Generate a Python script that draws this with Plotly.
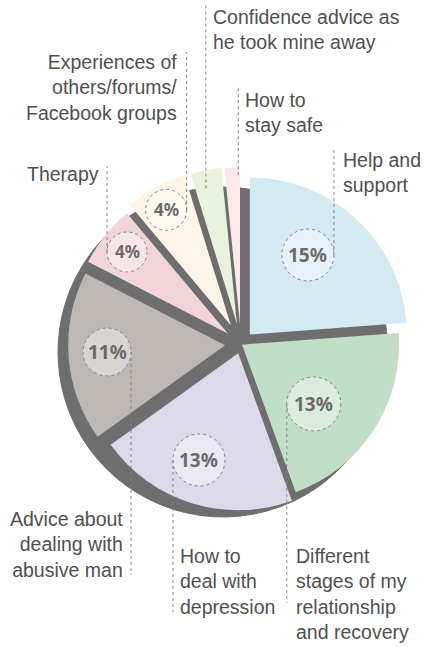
import math
import plotly.graph_objects as go

# ---------------- data ----------------
CATEGORIES = [
    "Help and support",
    "Different stages of my relationship and recovery",
    "How to deal with depression",
    "Advice about dealing with abusive man",
    "Therapy",
    "Experiences of others/forums/Facebook groups",
    "Confidence advice as he took mine away",
    "How to stay safe",
]
LABEL_TEXT = [
    "Help and<br>support",
    "Different<br>stages of my<br>relationship<br>and recovery",
    "How to<br>deal with<br>depression",
    "Advice about<br>dealing with<br>abusive man",
    "Therapy",
    "Experiences of<br>others/forums/<br>Facebook groups",
    "Confidence advice as<br>he took mine away",
    "How to<br>stay safe",
]
VALUES = [15, 13, 13, 11, 4, 4, 2, 1]

# ---------------- styles / layout ----------------
SLICE_COLORS = ["#d4eaf2", "#c1dfc6", "#dcd9e8", "#bdb8b4",
                "#f1d5d9", "#fef4e7", "#e9f2dc", "#fde8ea"]
SHADOW_COLOR = "#6e6e6e"
TEXT_COLOR = "#505050"
DOT_COLOR = "#858585"

W, H = 425, 647
PIE_CX, PIE_CY, PIE_R = 241, 344, 157          # coloured pie (px)
SHADOW_CX, SHADOW_CY, SHADOW_R = 223, 352, 165  # grey shadow pie (px)
PULL_PX = [13, 1.2, 9.6, 15.9, 16.9, 21.3, 20.5, 19.8]

LABEL_DIST = [98.4, 93.1, 113.8, 118.3, 129.6, 132.3, 139, 149]
LABEL_DANG = [-6.7, 6.7, 3.0, 1.0, 0.4, -0.7, -1.5, 2.2]
CIRCLE_R = [26, 27, 26, 24, 20, 20.5, 0, 0]
LEADER_SIDE = [1, -1, -1, 1, -1, 1, 0, 0]
LEADER_END_Y = [148, 603, 612, 575, 166, 52, 5, 85]
TEXT_TOP_Y = [147, 543, 543, 506, 161, 49, 4, 87]
TEXT_ANCHOR = ["left", "left", "left", "right", "right", "right", "left", "left"]
TEXT_GAP = [7, 7, 5, 6, 6, 8, 5, 5]
MIN_PCT_SHOWN = 4


def fx(x):
    return x / W


def fy(y):
    return 1 - y / H


def unit(deg):
    r = math.radians(deg)
    return math.sin(r), -math.cos(r)


total = sum(VALUES)
mids = []
acc = 0
for v in VALUES:
    mids.append((acc + v / 2) / total * 360)
    acc += v

fig = go.Figure()

# grey shadow pie
fig.add_trace(go.Pie(
    values=VALUES, labels=CATEGORIES, sort=False, direction="clockwise", rotation=0,
    marker=dict(colors=[SHADOW_COLOR] * len(VALUES), line=dict(color=SHADOW_COLOR, width=1)),
    textinfo="none", hoverinfo="skip", showlegend=False,
    domain=dict(x=[fx(SHADOW_CX - SHADOW_R), fx(SHADOW_CX + SHADOW_R)],
                y=[fy(SHADOW_CY + SHADOW_R), fy(SHADOW_CY - SHADOW_R)]),
))

# coloured exploded pie
max_pull = max(PULL_PX) / PIE_R
half = PIE_R * (1 + max_pull)
fig.add_trace(go.Pie(
    values=VALUES, labels=CATEGORIES, sort=False, direction="clockwise", rotation=0,
    pull=[p / PIE_R for p in PULL_PX],
    marker=dict(colors=SLICE_COLORS, line=dict(width=0)),
    textinfo="none", hoverinfo="skip", showlegend=False,
    domain=dict(x=[fx(PIE_CX - half), fx(PIE_CX + half)],
                y=[fy(PIE_CY + half), fy(PIE_CY - half)]),
))

shapes = []
annotations = []
for i, v in enumerate(VALUES):
    ux, uy = unit(mids[i])
    tx = PIE_CX + PULL_PX[i] * ux
    ty = PIE_CY + PULL_PX[i] * uy
    a = mids[i] + LABEL_DANG[i]
    lx, ly = unit(a)
    cx = tx + LABEL_DIST[i] * lx
    cy = ty + LABEL_DIST[i] * ly

    if v >= MIN_PCT_SHOWN:
        r = CIRCLE_R[i]
        shapes.append(dict(type="circle", xref="paper", yref="paper",
                           x0=fx(cx - r), x1=fx(cx + r), y0=fy(cy + r), y1=fy(cy - r),
                           line=dict(color=DOT_COLOR, width=1, dash="dot"),
                           fillcolor="rgba(255,255,255,0.4)", layer="above"))
        annotations.append(dict(x=fx(cx), y=fy(cy), xref="paper", yref="paper",
                                xanchor="center", yanchor="middle",
                                text=f"{v}%", showarrow=False,
                                font=dict(family="Noto Sans, sans-serif",
                                          size=19 if v >= 10 else 17,
                                          color="#6b6b6b", weight="bold")))
        lead_x = cx + LEADER_SIDE[i] * r
    else:
        lead_x = cx
    shapes.append(dict(type="line", xref="paper", yref="paper",
                       x0=fx(lead_x), x1=fx(lead_x), y0=fy(cy), y1=fy(LEADER_END_Y[i]),
                       line=dict(color=DOT_COLOR, width=1, dash="dot"), layer="above"))
    if TEXT_ANCHOR[i] == "left":
        tx_text = lead_x + TEXT_GAP[i]
    else:
        tx_text = lead_x - TEXT_GAP[i]
    annotations.append(dict(x=fx(tx_text), y=fy(TEXT_TOP_Y[i]), xref="paper", yref="paper",
                            text=LABEL_TEXT[i], showarrow=False,
                            xanchor=TEXT_ANCHOR[i], yanchor="top", align=TEXT_ANCHOR[i],
                            font=dict(family="Liberation Sans, Arial, sans-serif",
                                      size=19.5, color=TEXT_COLOR)))

fig.update_layout(
    width=W, height=H,
    margin=dict(l=0, r=0, t=0, b=0),
    paper_bgcolor="white", plot_bgcolor="white",
    showlegend=False,
    shapes=shapes, annotations=annotations,
)

fig.write_html(
    "out.html",
    config={"displayModeBar": False},
    post_script="document.body.style.margin='0';document.body.style.overflow='hidden';",
)
